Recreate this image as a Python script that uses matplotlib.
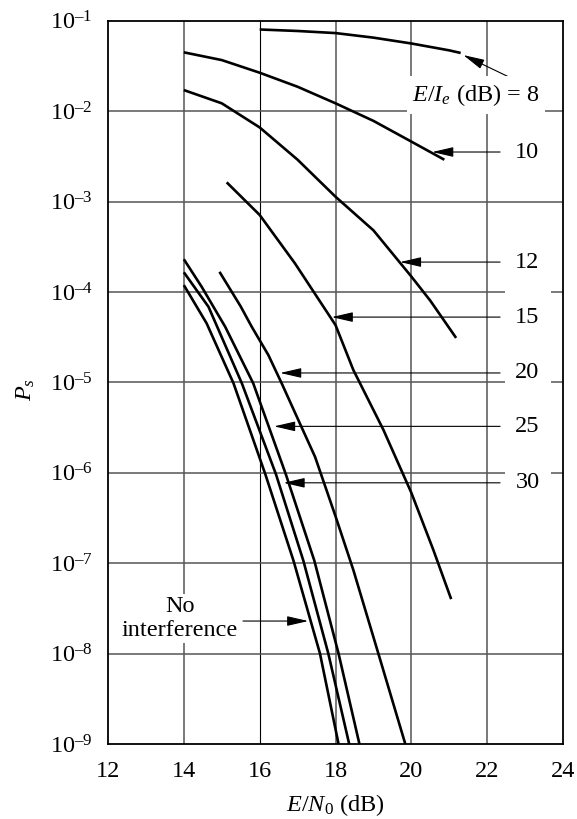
import matplotlib

matplotlib.use("Agg")
import matplotlib.pyplot as plt
import numpy as np
from matplotlib.patches import Rectangle
from matplotlib.ticker import FixedLocator, FuncFormatter, NullLocator

# symbol error probability vs E/N0 for several signal-to-interference ratios
e8_x = [16.0, 17.0, 18.0, 19.0, 20.0, 21.0, 21.3]
e8_p = [0.080, 0.077, 0.073, 0.065, 0.056, 0.047, 0.044]

e10_x = [14.0, 15.0, 16.0, 17.0, 18.0, 19.0, 20.0, 20.87]
e10_p = [0.0447, 0.0367, 0.0266, 0.0186, 0.0122, 0.0078, 0.0046, 0.0029]

e12_x = [14.0, 15.0, 16.0, 17.0, 18.0, 19.0, 20.0, 20.5, 21.18]
e12_p = [0.0171, 0.0122, 0.0066, 0.0029, 1.13e-3, 4.8e-4, 1.48e-4, 8.0e-5, 3.1e-5]

e15_x = [15.13, 16.0, 16.93, 18.0, 18.47, 19.26, 20.0, 20.58, 21.05]
e15_p = [1.63e-3, 7.1e-4, 2.07e-4, 4.3e-5, 1.37e-5, 3.0e-6, 6.0e-7, 1.4e-7, 4.0e-8]

e20_x = [14.94, 15.5, 15.79, 16.23, 16.58, 17.46, 18.0, 18.47, 19.18, 19.84]
e20_p = [1.67e-4, 6.9e-5, 4.12e-5, 2.0e-5, 9.75e-6, 1.5e-6, 3.3e-7, 8.4e-8, 8.5e-9, 1.0e-9]

e25_x = [14.0, 14.47, 15.09, 15.83, 16.69, 17.44, 18.08, 18.63]
e25_p = [2.30e-4, 1.14e-4, 4.12e-5, 9.75e-6, 9.6e-7, 1.07e-7, 1e-8, 1e-9]

e30_x = [14.0, 14.65, 15.53, 16.43, 17.15, 17.81, 18.36]
e30_p = [1.65e-4, 6.85e-5, 9.75e-6, 9.6e-7, 1.07e-7, 1e-8, 1e-9]

none_x = [14.0, 14.60, 15.31, 16.15, 16.89, 17.59, 18.08]
none_p = [1.19e-4, 4.5e-5, 9.75e-6, 9.6e-7, 1.07e-7, 1e-8, 1e-9]

curves = [
    (e8_x, e8_p), (e10_x, e10_p), (e12_x, e12_p), (e15_x, e15_p),
    (e20_x, e20_p), (e25_x, e25_p), (e30_x, e30_p), (none_x, none_p),
]

# labels on the right: text, level, arrow tip x
side_labels = ["10", "12", "15", "20", "25", "30"]
side_levels = [3.53e-3, 2.14e-4, 5.27e-5, 1.27e-5, 3.26e-6, 7.74e-7]
side_tips = [20.55, 19.70, 17.90, 16.54, 16.38, 16.63]

x_ticks = [12, 14, 16, 18, 20, 22, 24]
y_ticks = [1e-9, 1e-8, 1e-7, 1e-6, 1e-5, 1e-4, 1e-3, 1e-2, 1e-1]

plt.rcParams["font.family"] = "Liberation Serif"
plt.rcParams["mathtext.fontset"] = "custom"
plt.rcParams["mathtext.rm"] = "Liberation Serif"
plt.rcParams["mathtext.it"] = "Liberation Serif:italic"
plt.rcParams["font.size"] = 17.5

fig = plt.figure(figsize=(5.77, 8.19), dpi=100)
ax = fig.add_axes([0.1872, 0.0916, 0.7886, 0.8831])
ax.set_yscale("log")
ax.set_xlim(12, 24)
ax.set_ylim(1e-9, 1e-1)


def decade_label(v, pos):
    return r"$10^{\mathrm{–}%d}$" % round(-np.log10(v))


ax.xaxis.set_major_locator(FixedLocator(x_ticks))
ax.yaxis.set_major_locator(FixedLocator(y_ticks))
ax.yaxis.set_major_formatter(FuncFormatter(decade_label))
ax.yaxis.set_minor_locator(NullLocator())
ax.tick_params(length=0, labelsize=17.5)
ax.tick_params(axis="x", pad=12)
ax.tick_params(axis="y", pad=11)

for x in x_ticks[1:-1]:
    if x == 16:
        ax.axvline(x, color="black", lw=0.8, zorder=1)
    else:
        ax.axvline(x, color="#555555", lw=1.1, zorder=1)
for y in y_ticks[1:-1]:
    ax.axhline(y, color="#555555", lw=1.1, zorder=1)
for s in ax.spines.values():
    s.set_linewidth(1.3)
    s.set_zorder(5)

# blank strip behind the right-hand labels
ax.add_patch(Rectangle((22.47, 10 ** -6.55), 1.2, 10 ** -3.45 - 10 ** -6.55,
                       facecolor="white", edgecolor="none", zorder=2))

for xs, ps in curves:
    ax.plot(xs, ps, color="black", lw=1.9, solid_capstyle="butt", zorder=3)

arrow = dict(arrowstyle="-|>,head_length=1.3,head_width=0.3", mutation_scale=10,
             color="black", lw=0.8, shrinkA=0, shrinkB=0)

for text, level, tip in zip(side_labels, side_levels, side_tips):
    ax.annotate("", xy=(tip, level), xytext=(22.34, level), arrowprops=arrow, zorder=4)
    ax.text(23.06, level, text, ha="center", va="center", zorder=4,
            bbox=dict(facecolor="white", edgecolor="none", pad=2))

ax.annotate("", xy=(21.37, 0.0417), xytext=(22.69, 0.0226), arrowprops=arrow, zorder=4)
ax.text(21.70, 0.0151, "$E/I_e$ (dB) = 8", ha="center", va="center", zorder=4,
        bbox=dict(facecolor="white", edgecolor="none", pad=4))

ax.annotate("", xy=(17.28, 2.29e-8), xytext=(15.56, 2.29e-8), arrowprops=arrow, zorder=4)
ax.text(13.9, 2.45e-8, "No\ninterference", ha="center", va="center", zorder=4,
        linespacing=1.15, bbox=dict(facecolor="white", edgecolor="none", pad=2))

ax.set_xlabel("$E/N_0$ (dB)", fontsize=17.5)
ax.set_ylabel("$P_s$", fontsize=17.5)
ax.xaxis.set_label_coords(0.5, -0.066)
ax.yaxis.set_label_coords(-0.156, 0.49)

fig.savefig("out.png", dpi=100)
